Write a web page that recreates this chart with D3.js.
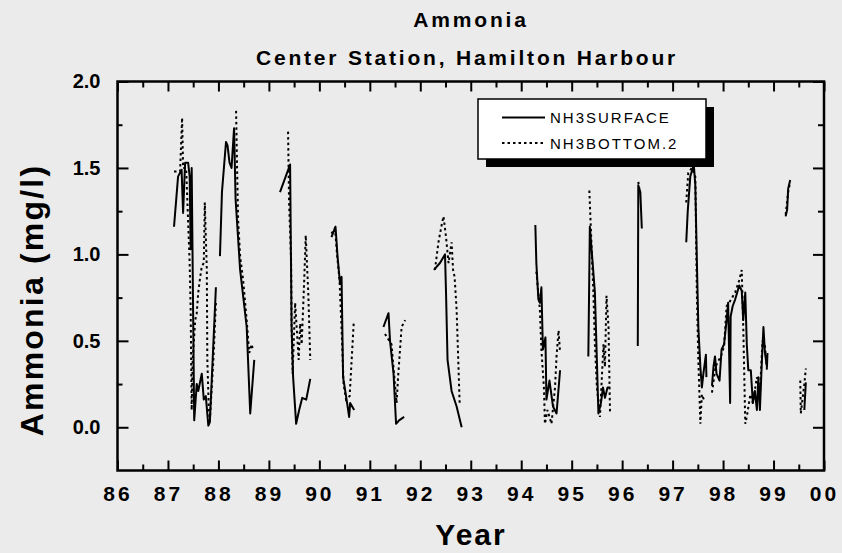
<!DOCTYPE html>
<html>
<head>
<meta charset="utf-8">
<script src="https://cdn.jsdelivr.net/npm/d3@7"></script>
<style>
    body { margin: 0; background: #ebebeb; }
    svg { display: block; font-family: "Liberation Sans", Arial, sans-serif; }
</style>
</head>
<body>
<div id="chart"></div>
<script>
// Ammonia - Center Station, Hamilton Harbour
// year (86 = 1986) and NH3 in mg/l, null breaks the line between sampling seasons
const surfaceYear = [
    87.12, 87.20, 87.27, 87.30, 87.34, 87.40, 87.43, 87.45, 87.47, 87.52, 87.57, 87.60, 87.67, 87.71, 87.75, 87.80, 87.83, 87.95, null,
    88.03, 88.07, 88.15, 88.18, 88.22, 88.26, 88.31, 88.34, 88.43, 88.56, 88.63, 88.71, null,
    89.22, 89.42, 89.45, 89.48, 89.54, 89.60, 89.66, 89.74, 89.82, null,
    90.24, 90.32, 90.36, 90.41, 90.44, 90.47, 90.54, 90.59, 90.61, 90.69, null,
    91.27, 91.37, 91.40, 91.47, 91.52, 91.58, 91.68, null,
    92.27, 92.39, 92.49, 92.51, 92.54, 92.62, 92.72, 92.82, null,
    94.28, 94.30, 94.34, 94.37, 94.40, 94.43, 94.48, 94.50, 94.56, 94.63, 94.70, 94.77, null,
    95.33, 95.36, 95.46, 95.53, 95.58, 95.62, 95.66, 95.71, 95.76, null,
    96.31, 96.32, 96.36, 96.39, null,
    97.27, 97.30, 97.35, 97.42, 97.45, 97.48, 97.51, 97.55, 97.58, 97.61, 97.66, 97.67, null,
    97.78, 97.81, 97.84, 97.87, 97.93, 97.97, 98.02, 98.07, 98.10, 98.14, 98.15, 98.19, 98.24, 98.28, 98.32, 98.37,
    98.40, 98.44, 98.47, 98.50, 98.55, 98.59, 98.63, 98.67, 98.70, 98.73, 98.77, 98.80, 98.83, 98.87, 98.88, null,
    99.24, 99.27, 99.29, 99.33, null,
    99.61, 99.64
];
const surfaceNH3 = [
    1.16, 1.45, 1.49, 1.24, 1.53, 1.53, 1.45, 1.03, 1.50, 0.04, 0.25, 0.21, 0.31, 0.16, 0.18, 0.01, 0.03, 0.81, null,
    0.99, 1.36, 1.65, 1.63, 1.53, 1.50, 1.73, 1.32, 0.91, 0.58, 0.08, 0.39, null,
    1.36, 1.52, 0.58, 0.29, 0.02, 0.10, 0.17, 0.16, 0.28, null,
    1.10, 1.16, 0.99, 0.83, 0.87, 0.29, 0.16, 0.06, 0.14, 0.10, null,
    0.58, 0.66, 0.50, 0.31, 0.02, 0.04, 0.06, null,
    0.91, 0.95, 1.00, 0.78, 0.39, 0.21, 0.12, 0.00, null,
    1.17, 0.95, 0.74, 0.72, 0.81, 0.45, 0.52, 0.16, 0.27, 0.12, 0.08, 0.33, null,
    0.41, 1.16, 0.78, 0.08, 0.14, 0.23, 0.17, 0.23, 0.23, null,
    0.47, 1.40, 1.36, 1.15, null,
    1.07, 1.25, 1.45, 1.52, 1.40, 0.97, 0.58, 0.35, 0.23, 0.31, 0.42, 0.29, null,
    0.24, 0.35, 0.41, 0.31, 0.27, 0.45, 0.48, 0.62, 0.72, 0.14, 0.64, 0.70, 0.74, 0.78, 0.82, 0.79,
    0.62, 0.78, 0.48, 0.33, 0.33, 0.14, 0.21, 0.10, 0.29, 0.10, 0.39, 0.58, 0.43, 0.35, 0.43, null,
    1.22, 1.26, 1.38, 1.43, null,
    0.10, 0.26
];

const bottomYear = [
    87.12, 87.24, 87.28, 87.30, 87.36, 87.43, 87.45, 87.47, 87.49, 87.54, 87.57, 87.60, 87.63, 87.67, 87.71, 87.73, 87.77, 87.78, 87.81, 87.83, 87.90, 87.95, null,
    88.35, 88.37, 88.39, 88.43, 88.49, 88.56, 88.61, 88.66, 88.68, null,
    89.38, 89.40, 89.44, 89.45, 89.47, 89.52, 89.55, 89.59, 89.62, 89.65, 89.70, 89.73, 89.76, 89.78, 89.82, null,
    90.24, 90.31, 90.35, 90.40, 90.45, 90.48, 90.53, 90.60, 90.68, null,
    91.30, 91.43, 91.53, 91.56, 91.63, 91.70, null,
    92.29, 92.36, 92.43, 92.46, 92.51, 92.56, 92.62, 92.65, 92.68, 92.72, 92.78, null,
    94.30, 94.37, 94.40, 94.45, 94.47, 94.52, 94.60, 94.67, 94.70, 94.74, 94.77, null,
    95.35, 95.43, 95.46, 95.50, 95.56, 95.63, 95.66, 95.69, 95.73, 95.76, null,
    96.32, 96.34, null,
    97.27, 97.31, 97.38, 97.45, 97.48, 97.51, 97.55, 97.58, 97.62, null,
    97.78, 97.85, 97.97, 98.02, 98.07, 98.12, 98.24, 98.32, 98.37, 98.40, 98.44, 98.47, 98.54, 98.59, 98.67, 98.73, 98.78, 98.83, 98.87, null,
    99.24, 99.29, 99.33, null,
    99.53, 99.54, 99.61, 99.64
];
const bottomNH3 = [
    1.48, 1.48, 1.79, 1.50, 1.50, 0.95, 0.68, 0.10, 0.39, 0.62, 0.66, 0.78, 0.85, 0.93, 0.95, 1.30, 0.91, 0.39, 0.10, 0.04, 0.39, 0.72, null,
    1.83, 1.49, 1.20, 0.99, 0.85, 0.62, 0.43, 0.48, 0.45, null,
    1.71, 1.30, 0.97, 0.58, 0.31, 0.72, 0.58, 0.39, 0.60, 0.48, 0.85, 1.11, 0.91, 0.78, 0.39, null,
    1.12, 1.15, 1.00, 0.85, 0.50, 0.25, 0.16, 0.18, 0.60, null,
    0.54, 0.48, 0.14, 0.29, 0.58, 0.62, null,
    0.91, 1.07, 1.18, 1.22, 1.10, 0.95, 1.07, 0.91, 0.87, 0.68, 0.14, null,
    0.90, 0.68, 0.45, 0.23, 0.02, 0.10, 0.02, 0.23, 0.41, 0.56, 0.43, null,
    1.37, 0.78, 0.48, 0.23, 0.06, 0.48, 0.35, 0.76, 0.58, 0.08, null,
    1.42, 1.38, null,
    1.30, 1.47, 1.50, 1.45, 0.78, 0.39, 0.02, 0.19, 0.16, null,
    0.20, 0.35, 0.42, 0.47, 0.70, 0.72, 0.78, 0.85, 0.91, 0.58, 0.02, 0.06, 0.19, 0.14, 0.29, 0.19, 0.50, 0.47, 0.33, null,
    1.23, 1.36, 1.42, null,
    0.27, 0.08, 0.25, 0.34
];

const yMajorTicks = [0, 0.5, 1.0, 1.5, 2.0];
const yMinorTicks = [0.25, 0.75, 1.25, 1.75];
const xMajorTicks = [86, 87, 88, 89, 90, 91, 92, 93, 94, 95, 96, 97, 98, 99, 100];
const xMinorTicks = [86.5, 87.5, 88.5, 89.5, 90.5, 91.5, 92.5, 93.5, 94.5, 95.5, 96.5, 97.5, 98.5, 99.5];
const xTickLabels = ['86', '87', '88', '89', '90', '91', '92', '93', '94', '95', '96', '97', '98', '99', '00'];

const width = 842;
const height = 553;
const plot = { left: 117.5, right: 824, top: 81.5, bottom: 470.5 };

const svg = d3.select('#chart')
    .append('svg')
    .attr('width', width)
    .attr('height', height);

svg.append('rect')
    .attr('width', width)
    .attr('height', height)
    .attr('fill', '#ebebeb');

const x = d3.scaleLinear().domain([86, 100]).range([plot.left, plot.right]);
const y = d3.scaleLinear().domain([-0.25, 2.0]).range([plot.bottom, plot.top]);

// Titles
svg.append('text')
    .attr('x', 471).attr('y', 26.5)
    .attr('text-anchor', 'middle')
    .attr('font-size', '21px').attr('font-weight', 'bold')
    .style('letter-spacing', '2.8px')
    .text('Ammonia');

svg.append('text')
    .attr('x', 467).attr('y', 65)
    .attr('text-anchor', 'middle')
    .attr('font-size', '21px').attr('font-weight', 'bold')
    .style('letter-spacing', '2.8px')
    .text('Center Station, Hamilton Harbour');

// Axes (ticks point inward)
const styleAxis = g => {
    g.select('.domain').remove();
    g.selectAll('.tick line').attr('stroke', '#000').attr('stroke-width', 2);
};

svg.append('g')
    .attr('transform', `translate(0,${plot.bottom})`)
    .call(d3.axisBottom(x).tickValues(xMajorTicks).tickSize(-10).tickPadding(16)
        .tickFormat((d, i) => xTickLabels[i]))
    .call(styleAxis)
    .call(g => g.selectAll('text')
        .attr('fill', '#000')
        .attr('font-size', '21px').attr('font-weight', 'bold')
        .attr('font-family', '"Liberation Sans", Arial, sans-serif')
        .style('letter-spacing', '3px'));

svg.append('g')
    .attr('transform', `translate(0,${plot.bottom})`)
    .call(d3.axisBottom(x).tickValues(xMinorTicks).tickSize(-6).tickFormat(''))
    .call(styleAxis);

svg.append('g')
    .attr('transform', `translate(0,${plot.top})`)
    .call(d3.axisTop(x).tickValues(xMajorTicks).tickSize(-10).tickFormat(''))
    .call(styleAxis);

svg.append('g')
    .attr('transform', `translate(0,${plot.top})`)
    .call(d3.axisTop(x).tickValues(xMinorTicks).tickSize(-6).tickFormat(''))
    .call(styleAxis);

svg.append('g')
    .attr('transform', `translate(${plot.left},0)`)
    .call(d3.axisLeft(y).tickValues(yMajorTicks).tickSize(-11).tickPadding(17)
        .tickFormat(d3.format('.1f')))
    .call(styleAxis)
    .call(g => g.selectAll('text')
        .attr('fill', '#000')
        .attr('font-size', '20px').attr('font-weight', 'bold')
        .attr('font-family', '"Liberation Sans", Arial, sans-serif'));

svg.append('g')
    .attr('transform', `translate(${plot.left},0)`)
    .call(d3.axisLeft(y).tickValues(yMinorTicks).tickSize(-5).tickFormat(''))
    .call(styleAxis);

svg.append('g')
    .attr('transform', `translate(${plot.right},0)`)
    .call(d3.axisRight(y).tickValues(yMajorTicks).tickSize(-11).tickFormat(''))
    .call(styleAxis);

svg.append('g')
    .attr('transform', `translate(${plot.right},0)`)
    .call(d3.axisRight(y).tickValues(yMinorTicks).tickSize(-6).tickFormat(''))
    .call(styleAxis);

// Frame
svg.append('rect')
    .attr('x', plot.left).attr('y', plot.top)
    .attr('width', plot.right - plot.left)
    .attr('height', plot.bottom - plot.top)
    .attr('fill', 'none')
    .attr('stroke', '#000')
    .attr('stroke-width', 2.5);

// Axis titles
svg.append('text')
    .attr('transform', `translate(43,300) rotate(-90)`)
    .attr('text-anchor', 'middle')
    .attr('font-size', '32px').attr('font-weight', 'bold')
    .style('letter-spacing', '2.2px')
    .text('Ammonia (mg/l)');

svg.append('text')
    .attr('x', 471).attr('y', 545)
    .attr('text-anchor', 'middle')
    .attr('font-size', '30px').attr('font-weight', 'bold')
    .style('letter-spacing', '2px')
    .text('Year');

// Series
const makeLine = (years, values) => d3.line()
    .defined((d, i) => years[i] !== null && values[i] !== null)
    .x((d, i) => x(years[i]))
    .y((d, i) => y(values[i]));

svg.append('path')
    .datum(surfaceYear)
    .attr('d', makeLine(surfaceYear, surfaceNH3))
    .attr('fill', 'none')
    .attr('stroke', '#000')
    .attr('stroke-width', 2)
    .attr('stroke-linejoin', 'round');

svg.append('path')
    .datum(bottomYear)
    .attr('d', makeLine(bottomYear, bottomNH3))
    .attr('fill', 'none')
    .attr('stroke', '#000')
    .attr('stroke-width', 2)
    .attr('stroke-dasharray', '2.5,3');

// Legend with drop shadow
const legend = svg.append('g').attr('transform', 'translate(478,99)');

legend.append('rect')
    .attr('x', 8).attr('y', 8)
    .attr('width', 228).attr('height', 60)
    .attr('fill', '#000');

legend.append('rect')
    .attr('width', 228).attr('height', 60)
    .attr('fill', '#fff')
    .attr('stroke', '#000')
    .attr('stroke-width', 1.5);

const legendItems = [
    { label: 'NH3SURFACE', dash: null, y: 18.5 },
    { label: 'NH3BOTTOM.2', dash: '2.5,3', y: 44 }
];

legendItems.forEach(item => {
    legend.append('line')
        .attr('x1', 24).attr('x2', 67)
        .attr('y1', item.y).attr('y2', item.y)
        .attr('stroke', '#000')
        .attr('stroke-width', 2)
        .attr('stroke-dasharray', item.dash);

    legend.append('text')
        .attr('x', 72).attr('y', item.y + 5.5)
        .attr('font-size', '15px')
        .style('letter-spacing', '2px')
        .text(item.label);
});
</script>
</body>
</html>
